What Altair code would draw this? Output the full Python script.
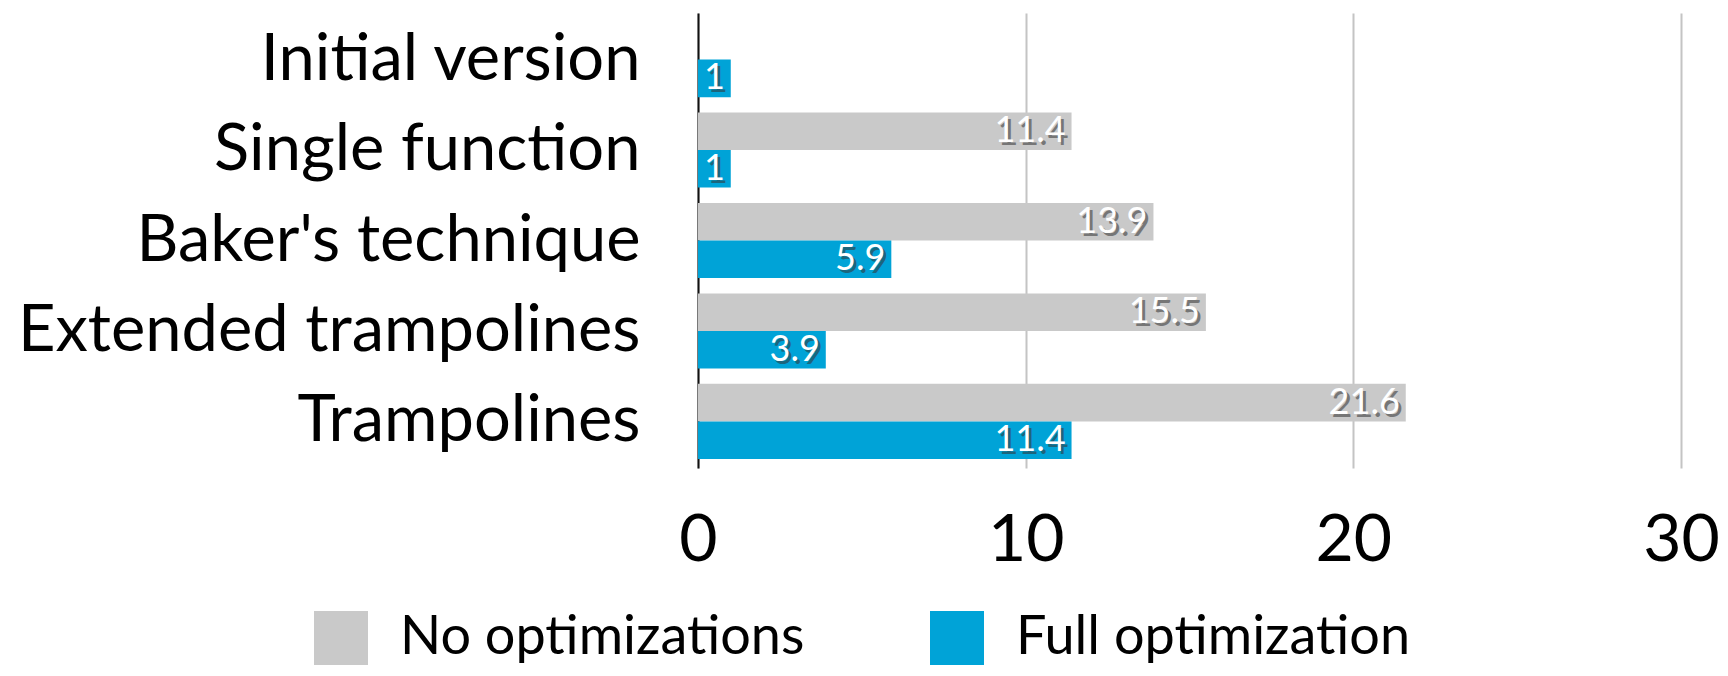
import altair as alt
import pandas as pd

categories = ["Initial version", "Single function", "Baker's technique",
              "Extended trampolines", "Trampolines"]
series = ["No optimizations", "Full optimization"]
no_opt = [None, 11.4, 13.9, 15.5, 21.6]
full_opt = [1, 1, 5.9, 3.9, 11.4]
colors = ["#C9C9C9", "#00A3D7"]
x_ticks = [0, 10, 20, 30]

rows = []
for c, a, b in zip(categories, no_opt, full_opt):
    if a is not None:
        rows.append({"cat": c, "series": series[0], "value": a})
    if b is not None:
        rows.append({"cat": c, "series": series[1], "value": b})
df = pd.DataFrame(rows)

FONT = "Lato"

y_enc = alt.Y("cat:N", sort=categories,
              scale=alt.Scale(paddingInner=0.17, paddingOuter=0.1),
              axis=alt.Axis(title=None, labelFontSize=65, labelFont=FONT,
                            labelColor="#000", labelPadding=58, ticks=False,
                            domain=True, domainColor="#111", domainWidth=2,
                            grid=False, labelLimit=900))
yoff = alt.YOffset("series:N", sort=series)
x_enc = alt.X("value:Q", scale=alt.Scale(domain=[0, 30], nice=False),
              axis=alt.Axis(title=None, values=x_ticks, labelFontSize=66,
                            labelFont=FONT, labelColor="#000", labelPadding=40,
                            ticks=False, domain=False, grid=True,
                            gridColor="#C4C4C4", gridWidth=2,
                            labelFlush=False))

bars = alt.Chart(df).mark_bar().encode(
    x=x_enc, y=y_enc, yOffset=yoff,
    color=alt.Color("series:N", sort=series,
                    scale=alt.Scale(domain=series, range=colors),
                    legend=alt.Legend(title=None, orient="none", direction="horizontal",
                                      legendX=-384, legendY=598, padding=0,
                                      symbolType="square", symbolSize=2916,
                                      symbolStrokeWidth=0, symbolOpacity=1,
                                      labelFontSize=54, labelFont=FONT,
                                      labelColor="#000", labelOffset=32,
                                      columnPadding=125, labelLimit=600))
)

shadow = alt.Chart(df).mark_text(align="right", baseline="middle", dx=-3, dy=3,
                                 font=FONT, fontSize=36, color="#333",
                                 opacity=0.55).encode(
    x="value:Q", y=alt.Y("cat:N", sort=categories), yOffset=yoff,
    text=alt.Text("value:Q", format="~g"))

labels = alt.Chart(df).mark_text(align="right", baseline="middle", dx=-6,
                                 font=FONT, fontSize=36, color="#FFFFFF").encode(
    x="value:Q", y=alt.Y("cat:N", sort=categories), yOffset=yoff,
    text=alt.Text("value:Q", format="~g"))

chart = alt.layer(bars, shadow, labels).properties(
    width=983, height=455,
    autosize=alt.AutoSizeParams(type="none"),
    padding={"left": 690, "top": 5, "right": 39, "bottom": 198},
).configure_view(stroke=None)

chart.save("out.html", embed_options={"renderer": "svg", "actions": False})
